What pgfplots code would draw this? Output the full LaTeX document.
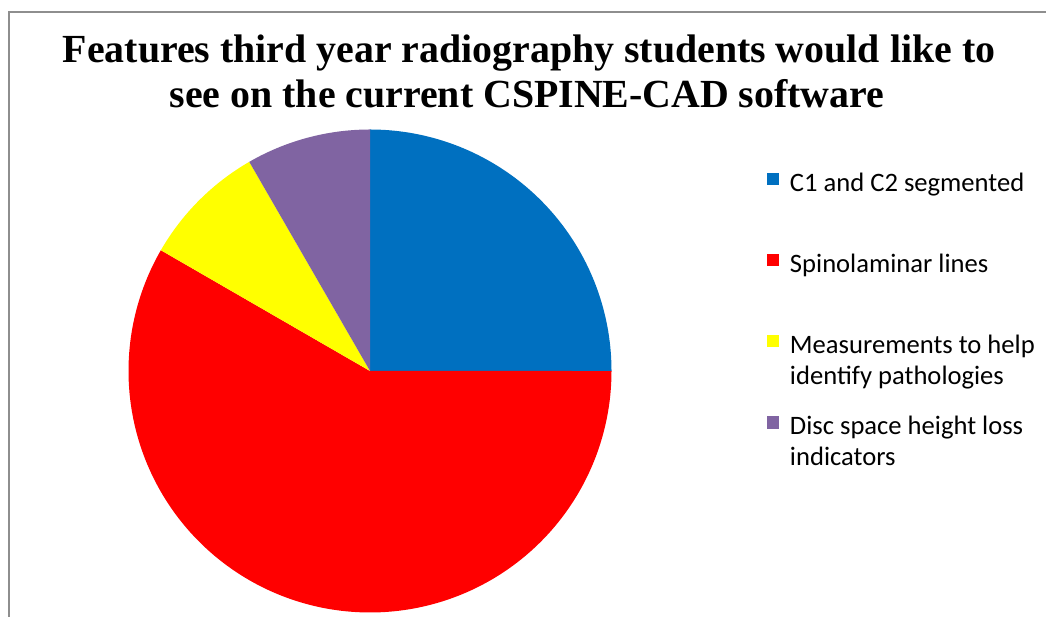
\documentclass[border=0pt]{standalone}
\usepackage{pgfplots}
\pgfplotsset{compat=1.18}
\usepackage{pgfplotstable}
\usepackage{fontspec}
\setmainfont{Carlito}
\newfontfamily\titlefont{Liberation Serif}

\definecolor{cblue}{HTML}{0070C0}
\definecolor{cred}{HTML}{FF0000}
\definecolor{cyellow}{HTML}{FFFF00}
\definecolor{cpurple}{HTML}{8064A2}
\definecolor{framegray}{HTML}{8E8E8E}

% number of students asking for each feature
\pgfplotstableread{
value
3
7
1
1
}\piedata

\begin{document}
\begin{tikzpicture}[x=1bp,y=1bp]
\useasboundingbox (0,0) rectangle (1046,617);

% outer chart frame
\draw[framegray, line width=2bp] (9,0) -- (9,604.5) -- (1050,604.5);

% cumulative slice angles, clockwise from 12 o'clock
\pgfplotstablegetelem{0}{value}\of\piedata \let\va\pgfplotsretval
\pgfplotstablegetelem{1}{value}\of\piedata \let\vb\pgfplotsretval
\pgfplotstablegetelem{2}{value}\of\piedata \let\vc\pgfplotsretval
\pgfplotstablegetelem{3}{value}\of\piedata \let\vd\pgfplotsretval
\pgfmathsetmacro\tot{\va+\vb+\vc+\vd}
\pgfmathsetmacro\angA{90}
\pgfmathsetmacro\angB{\angA-360*\va/\tot}
\pgfmathsetmacro\angC{\angB-360*\vb/\tot}
\pgfmathsetmacro\angD{\angC-360*\vc/\tot}
\pgfmathsetmacro\angE{\angD-360*\vd/\tot}

\begin{axis}[
  at={(370bp,246bp)}, anchor=center,
  width=483bp, height=483bp, scale only axis,
  xmin=-1, xmax=1, ymin=-1, ymax=1,
  hide axis,
  legend image code/.code={\fill[#1] (0bp,-4.2bp) rectangle (12.5bp,8.3bp);},
  legend cell align=left,
  legend style={
    at={(1.3219,0.9172)}, anchor=north west,
    draw=none, fill=none, inner sep=0pt, outer sep=0pt,
    row sep=58bp, column sep=10.5bp,
    nodes={inner sep=0pt, outer sep=0pt},
    font=\fontsize{26.7}{31}\selectfont,
  },
]
\addplot[fill=cblue, draw=none, domain=\angB:\angA, samples=120, variable=\t]
  ({cos(\t)},{sin(\t)}) -- (axis cs:0,0) -- cycle;
\addlegendentry{\strut C1 and C2 segmented}
\addplot[fill=cred, draw=none, domain=\angC:\angB, samples=240, variable=\t]
  ({cos(\t)},{sin(\t)}) -- (axis cs:0,0) -- cycle;
\addlegendentry{\strut Spinolaminar lines}
\addplot[fill=cyellow, draw=none, domain=\angD:\angC, samples=60, variable=\t]
  ({cos(\t)},{sin(\t)}) -- (axis cs:0,0) -- cycle;
\addlegendentry{\smash{\parbox[t]{260bp}{\strut Measurements to help\\identify pathologies}}\strut}
\addplot[fill=cpurple, draw=none, domain=\angE:\angD, samples=60, variable=\t]
  ({cos(\t)},{sin(\t)}) -- (axis cs:0,0) -- cycle;
\addlegendentry{\smash{\parbox[t]{260bp}{\strut Disc space height loss\\indicators}}\strut}
\end{axis}

% chart title
\node[anchor=base, font=\titlefont\bfseries\fontsize{40}{44}\selectfont] at (529,554) {Features third year radiography students would like to};
\node[anchor=base, font=\titlefont\bfseries\fontsize{40}{44}\selectfont] at (527,509) {see on the current CSPINE-CAD software};
\end{tikzpicture}
\end{document}
